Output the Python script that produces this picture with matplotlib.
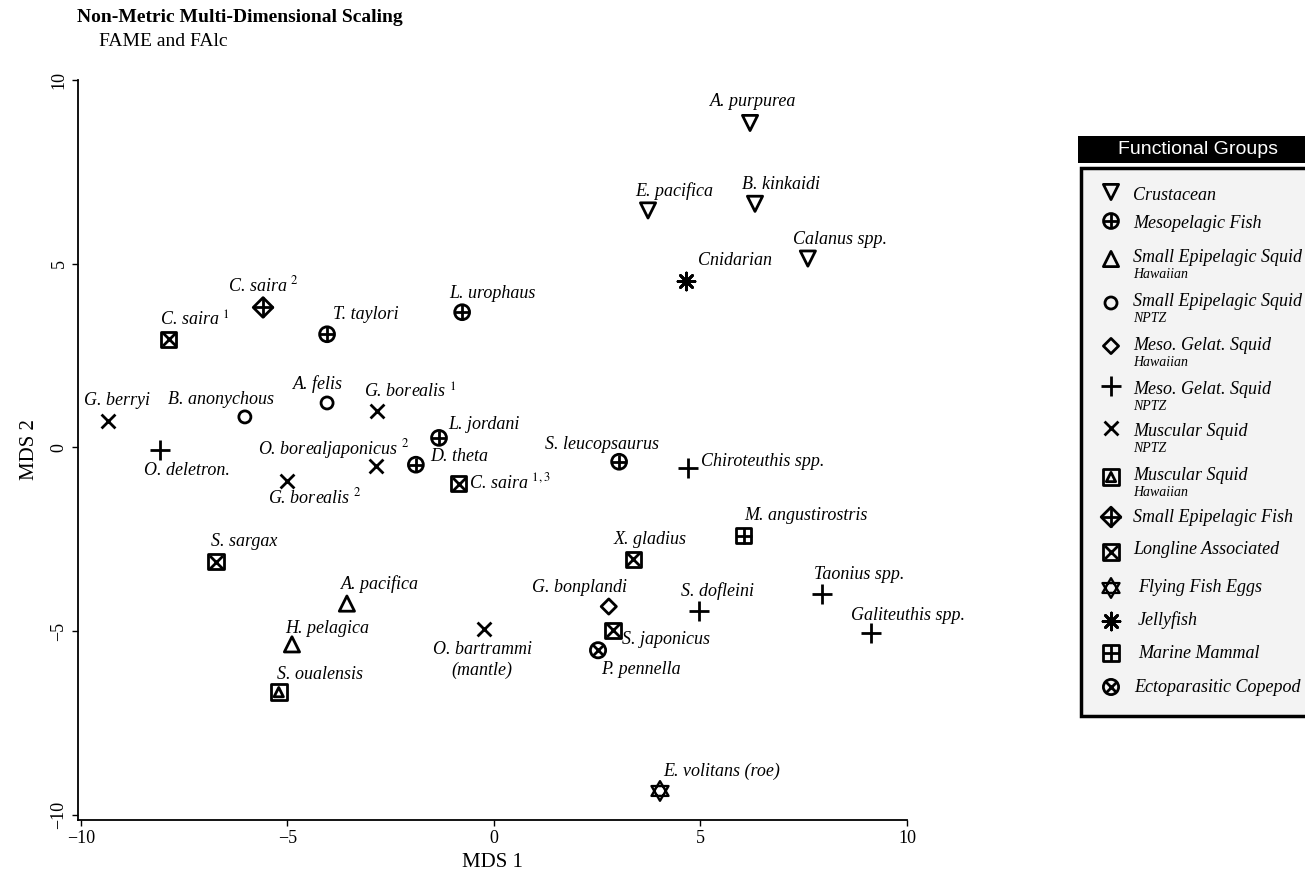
import numpy as np
import matplotlib.pyplot as plt
from matplotlib.markers import MarkerStyle
from matplotlib.patches import Rectangle
from matplotlib.path import Path

plt.rcParams['font.family'] = ['Liberation Serif', 'DejaVu Serif']
plt.rcParams['mathtext.fontset'] = 'stix'

# ---- values ----
names = ['A. purpurea', 'E. pacifica', 'B. kinkaidi', 'Calanus spp.',
         'L. urophaus', 'T. taylori', 'L. jordani', 'D. theta', 'S. leucopsaurus',
         'A. pacifica', 'H. pelagica',
         'B. anonychous', 'A. felis',
         'G. bonplandi',
         'O. deletron.', 'Chiroteuthis spp.', 'S. dofleini', 'Taonius spp.', 'Galiteuthis spp.',
         'G. berryi', r'G. borealis $^{1}$', r'O. borealjaponicus $^{2}$', r'G. borealis $^{2}$',
         'O. bartrammi\n(mantle)',
         'S. oualensis',
         r'C. saira $^{2}$',
         r'C. saira $^{1}$', r'C. saira $^{1,3}$', 'S. sargax', 'X. gladius', 'S. japonicus',
         'E. volitans (roe)',
         'Cnidarian',
         'M. angustirostris',
         'P. pennella']
groups = ['crus'] * 4 + ['mfish'] * 5 + ['sesq_h'] * 2 + ['sesq_n'] * 2 + ['mgs_h'] + \
         ['mgs_n'] * 5 + ['msq_n'] * 5 + ['msq_h'] + ['sefish'] + ['long'] * 5 + \
         ['eggs', 'jelly', 'mammal', 'cope']
mds1 = [6.20, 3.73, 6.32, 7.60,
        -0.77, -4.04, -1.33, -1.89, 3.03,
        -3.56, -4.89,
        -6.03, -4.04,
        2.78,
        -8.09, 4.70, 4.96, 7.94, 9.13,
        -9.35, -2.83, -2.86, -5.01, -0.24,
        -5.21,
        -5.59,
        -7.87, -0.85, -6.73, 3.37, 2.88,
        4.02, 4.65, 6.05, 2.52]
mds2 = [8.83, 6.45, 6.63, 5.14,
        3.68, 3.08, 0.26, -0.47, -0.39,
        -4.25, -5.36,
        0.83, 1.21,
        -4.33,
        -0.07, -0.56, -4.44, -3.98, -5.06,
        0.72, 0.99, -0.50, -0.91, -4.95,
        -6.66,
        3.81,
        2.94, -0.99, -3.11, -3.05, -4.98,
        -9.35, 4.52, -2.40, -5.52]

leg_keys = ['crus', 'mfish', 'sesq_h', 'sesq_n', 'mgs_h', 'mgs_n', 'msq_n',
            'msq_h', 'sefish', 'long', 'eggs', 'jelly', 'mammal', 'cope']
leg_names = ['Crustacean', 'Mesopelagic Fish', 'Small Epipelagic Squid',
             'Small Epipelagic Squid', 'Meso. Gelat. Squid', 'Meso. Gelat. Squid',
             'Muscular Squid', 'Muscular Squid', 'Small Epipelagic Fish',
             'Longline Associated', 'Flying Fish Eggs', 'Jellyfish',
             'Marine Mammal', 'Ectoparasitic Copepod']
leg_sub = ['', '', 'Hawaiian', 'NPTZ', 'Hawaiian', 'NPTZ', 'NPTZ', 'Hawaiian',
           '', '', '', '', '', '']

# ---- styling / layout ----
# star of David marker: two triangles sharing a centre
up = np.deg2rad([90, 210, 330])
dn = np.deg2rad([270, 30, 150])
hex_verts = [(np.cos(a), np.sin(a)) for a in up] + [(0, 0)] + \
            [(np.cos(a), np.sin(a)) for a in dn] + [(0, 0)]
hex_codes = [Path.MOVETO, Path.LINETO, Path.LINETO, Path.CLOSEPOLY] * 2
hexagram = Path(hex_verts, hex_codes)

# (marker, size, linewidth)
sym = {
    'crus': [('v', 120, 2)],
    'mfish': [('o', 115, 2), ('+', 115, 2)],
    'sesq_h': [('^', 120, 2)],
    'sesq_n': [('o', 75, 2)],
    'mgs_h': [('D', 60, 2)],
    'mgs_n': [('+', 200, 2)],
    'msq_n': [('x', 100, 2)],
    'msq_h': [('s', 130, 2), ('^', 45, 2)],
    'sefish': [('D', 100, 2), ('+', 190, 2)],
    'long': [('s', 120, 2), ('x', 85, 2)],
    'eggs': [(hexagram, 200, 1.7)],
    'jelly': [((8, 2, 0), 150, 2)],
    'mammal': [('s', 120, 2), ('+', 120, 2)],
    'cope': [('o', 120, 2), ('x', 60, 2)],
}

# label centre offsets from marker, pixels (x right, y up)
lab_off = [(3, 21), (26, 19), (26, 19), (32, 19),
           (30, 19), (39, 20), (45, 13), (43, 8), (-17, 17),
           (33, 20), (35, 16),
           (-24, 17), (-9, 19),
           (-29, 19),
           (27, -21), (75, 7), (19, 20), (37, 19), (37, 18),
           (9, 20), (33, 19), (-42, 17), (28, -17), (-2, -31),
           (41, 18),
           (0, 22),
           (26, 19), (51, 1), (28, 20), (17, 20), (53, -9),
           (62, 20), (49, 21), (62, 20), (43, -19)]


def draw_sym(ax, x, y, key, **kw):
    for m, s, lw in sym[key]:
        if MarkerStyle(m).is_filled():
            ax.scatter(x, y, marker=m, s=s, facecolors='none',
                       edgecolors='black', linewidths=lw, **kw)
        else:
            ax.scatter(x, y, marker=m, s=s, c='black', linewidths=lw, **kw)


fig = plt.figure(figsize=(13.05, 8.74), dpi=100)
ax = fig.add_axes([78 / 1305, 1 - 820 / 874, 829 / 1305, 740 / 874])

for x, y, g in zip(mds1, mds2, groups):
    draw_sym(ax, x, y, g, zorder=3)

for nm, x, y, (dx, dy) in zip(names, mds1, mds2, lab_off):
    ax.annotate(nm, (x, y), xytext=(dx, dy), textcoords='offset pixels',
                ha='center', va='center', style='italic', fontsize=13,
                multialignment='center', linespacing=1.25)

ax.set_xlim(-10.07, 10)
ax.set_ylim(-10.14, 10)
ax.set_xticks([-10, -5, 0, 5, 10])
ax.set_yticks([-10, -5, 0, 5, 10])
ax.spines['top'].set_visible(False)
ax.spines['right'].set_visible(False)
ax.spines['left'].set_linewidth(1.3)
ax.spines['bottom'].set_linewidth(1.3)
ax.tick_params(direction='out', length=4, width=1, labelsize=13)
for lbl in ax.get_yticklabels():
    lbl.set_rotation(90)
    lbl.set_va('center')
ax.set_xlabel('MDS 1', fontsize=15, labelpad=4)
ax.set_ylabel('MDS 2', fontsize=15, labelpad=8)

fig.text(77 / 1305, 1 - 18 / 874, 'Non-Metric Multi-Dimensional Scaling',
         weight='bold', fontsize=14, va='center')
fig.text(99 / 1305, 1 - 42 / 874, 'FAME and FAlc', fontsize=14, va='center')

# ---- hand-built legend in pixel coordinates ----
lax = fig.add_axes([0, 0, 1, 1])
lax.set_xlim(0, 1305)
lax.set_ylim(874, 0)
lax.axis('off')
lax.add_patch(Rectangle((1078, 136), 240, 27, fc='black', ec='none'))
lax.text(1198, 150, 'Functional Groups', color='white', fontsize=14,
         family='Liberation Sans', ha='center', va='center')
lax.add_patch(Rectangle((1081, 168), 240, 548, fc='#f3f3f3', ec='black', lw=2.5))

mk_y = [192, 221, 259, 303, 346, 386, 428, 477, 517, 552, 588, 621, 653, 687]
tx_y = [196, 223, 257, 302, 346, 390, 432, 475, 517, 550, 587, 620, 653, 688]
tx_x = [1133] * 10 + [1138, 1138, 1138, 1134]
for key, nm, sub, my, ty, tx in zip(leg_keys, leg_names, leg_sub, mk_y, tx_y, tx_x):
    draw_sym(lax, 1111, my, key)
    lax.text(tx, ty, nm, style='italic', fontsize=13, va='center')
    if sub:
        lax.text(1133, ty + 17, sub, style='italic', fontsize=10, va='center')

fig.savefig('out.png', dpi=100)
